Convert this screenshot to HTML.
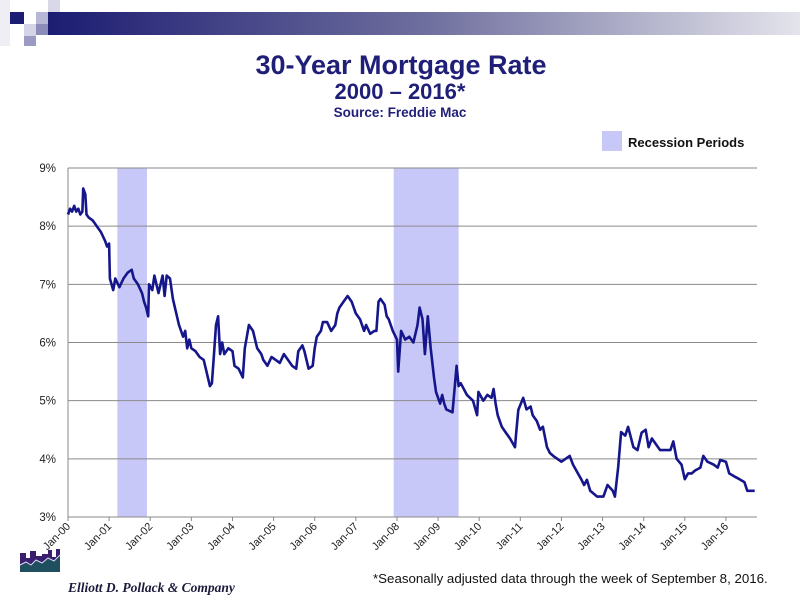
<!DOCTYPE html>
<html><head><meta charset="utf-8"><style>
body{margin:0;background:#fff;width:800px;height:600px;overflow:hidden;font-family:"Liberation Sans",Arial,sans-serif}
</style></head><body>
<svg id="c" width="800" height="600" viewBox="0 0 800 600" xmlns="http://www.w3.org/2000/svg">
<defs><linearGradient id="hg" x1="0" x2="1"><stop offset="0" stop-color="#1c1c72"/><stop offset="0.5" stop-color="#6e6e9e"/><stop offset="1" stop-color="#e4e4ec"/></linearGradient></defs>
<g>
<rect x="48" y="12" width="752" height="23" fill="url(#hg)"/>
<rect x="10" y="12" width="14" height="12" fill="#1c1c72"/>
<rect x="36" y="12" width="12" height="12" fill="#b8b8d6"/>
<rect x="24" y="24" width="12" height="12" fill="#d4d4e6"/>
<rect x="36" y="24" width="12" height="11" fill="#8c8cb8"/>
<rect x="48" y="0" width="12" height="12" fill="#d8d8e8"/>
<rect x="24" y="36" width="12" height="10" fill="#9a9ac4"/>
<rect x="0" y="0" width="10" height="46" fill="#eeeef4"/>
</g>
<text x="401" y="74" text-anchor="middle" font-size="27" font-weight="bold" fill="#1f1f78">30-Year Mortgage Rate</text>
<text x="400" y="99" text-anchor="middle" font-size="22" font-weight="bold" fill="#1f1f78">2000 – 2016*</text>
<text x="400" y="117" text-anchor="middle" font-size="13.5" font-weight="bold" fill="#1f1f78">Source: Freddie Mac</text>
<g>
<rect x="602" y="131" width="20" height="20" fill="#c8c8f8"/>
<text x="628" y="147" font-size="13" font-weight="bold" fill="#111">Recession Periods</text>
</g>
<g id="rec"></g><g id="grid"></g><g id="xax"></g><g id="line"></g>
<g>
<path d="M20 572 L20 553 L26 553 L26 558 L30 558 L30 551 L36 551 L36 556 L42 556 L42 554 L48 554 L48 550 L52 550 L52 557 L56 557 L56 549 L60 549 L60 572 Z" fill="#3a1f6e"/>
<path d="M20 572 L20 565 L26 562 L31 565 L36 560 L42 563 L48 558 L54 561 L60 555 L60 572 Z" fill="#1f4f5f"/>
<path d="M20 565 L26 562 L31 565 L36 560 L42 563 L48 558 L54 561 L60 555" fill="none" stroke="#d8d8f0" stroke-width="1"/>
</g>
<text x="68" y="592" font-family="Liberation Serif,serif" font-style="italic" font-weight="bold" font-size="13.5" fill="#1a1a3a">Elliott D. Pollack &amp; Company</text>
<text x="373" y="583" font-size="13.3" fill="#111">*Seasonally adjusted data through the week of September 8, 2016.</text>
</svg>
<script>
const yTicks=[3,4,5,6,7,8,9];
const xTickYears=[2000,2001,2002,2003,2004,2005,2006,2007,2008,2009,2010,2011,2012,2013,2014,2015,2016];
const xTickLabels=["Jan-00","Jan-01","Jan-02","Jan-03","Jan-04","Jan-05","Jan-06","Jan-07","Jan-08","Jan-09","Jan-10","Jan-11","Jan-12","Jan-13","Jan-14","Jan-15","Jan-16"];
const recessionStart=[2001.2,2007.92];
const recessionEnd=[2001.92,2009.5];
const dates=[2000.0,2000.05,2000.1,2000.15,2000.2,2000.25,2000.3,2000.35,2000.37,2000.42,2000.45,2000.5,2000.6,2000.7,2000.8,2000.9,2000.95,2001.0,2001.02,2001.1,2001.15,2001.25,2001.35,2001.45,2001.55,2001.6,2001.7,2001.8,2001.85,2001.9,2001.95,2001.97,2002.05,2002.1,2002.2,2002.3,2002.35,2002.4,2002.48,2002.55,2002.6,2002.7,2002.8,2002.85,2002.9,2002.95,2003.0,2003.1,2003.2,2003.3,2003.35,2003.45,2003.5,2003.55,2003.6,2003.65,2003.7,2003.75,2003.8,2003.9,2004.0,2004.05,2004.15,2004.25,2004.3,2004.4,2004.5,2004.6,2004.7,2004.75,2004.85,2004.95,2005.05,2005.15,2005.25,2005.35,2005.45,2005.55,2005.6,2005.7,2005.75,2005.8,2005.85,2005.95,2006.0,2006.05,2006.15,2006.2,2006.3,2006.4,2006.5,2006.55,2006.6,2006.7,2006.8,2006.9,2007.0,2007.1,2007.2,2007.25,2007.35,2007.45,2007.5,2007.55,2007.6,2007.7,2007.75,2007.8,2007.9,2008.0,2008.03,2008.1,2008.2,2008.3,2008.4,2008.5,2008.55,2008.62,2008.68,2008.75,2008.82,2008.9,2008.95,2009.05,2009.1,2009.15,2009.2,2009.35,2009.45,2009.5,2009.55,2009.7,2009.85,2009.95,2009.98,2010.1,2010.2,2010.3,2010.35,2010.4,2010.45,2010.55,2010.65,2010.75,2010.87,2010.9,2010.95,2011.07,2011.15,2011.25,2011.3,2011.4,2011.48,2011.55,2011.65,2011.72,2011.8,2012.0,2012.1,2012.2,2012.28,2012.4,2012.48,2012.55,2012.62,2012.7,2012.87,2013.02,2013.12,2013.25,2013.3,2013.38,2013.45,2013.55,2013.62,2013.75,2013.85,2013.95,2014.05,2014.12,2014.2,2014.4,2014.65,2014.72,2014.8,2014.92,2015.0,2015.08,2015.17,2015.25,2015.38,2015.45,2015.55,2015.7,2015.8,2015.86,2016.0,2016.08,2016.2,2016.33,2016.45,2016.52,2016.7];
const rates=[8.2,8.3,8.25,8.35,8.25,8.3,8.2,8.25,8.65,8.55,8.2,8.15,8.1,8.0,7.9,7.75,7.65,7.7,7.1,6.9,7.1,6.95,7.1,7.2,7.25,7.1,7.0,6.85,6.7,6.6,6.45,7.0,6.9,7.15,6.85,7.15,6.8,7.15,7.1,6.75,6.6,6.3,6.1,6.2,5.9,6.05,5.9,5.85,5.75,5.7,5.55,5.25,5.3,5.8,6.3,6.45,5.8,6.0,5.8,5.9,5.85,5.6,5.55,5.4,5.9,6.3,6.2,5.9,5.8,5.7,5.6,5.75,5.7,5.65,5.8,5.7,5.6,5.55,5.85,5.95,5.85,5.7,5.55,5.6,5.9,6.1,6.2,6.35,6.35,6.2,6.3,6.5,6.6,6.7,6.8,6.7,6.5,6.4,6.2,6.3,6.15,6.2,6.2,6.7,6.75,6.65,6.45,6.4,6.2,6.05,5.5,6.2,6.05,6.1,6.0,6.3,6.6,6.4,5.8,6.45,5.9,5.4,5.15,4.95,5.1,4.95,4.85,4.8,5.6,5.25,5.3,5.1,5.0,4.75,5.15,5.0,5.1,5.05,5.2,4.95,4.75,4.55,4.45,4.35,4.2,4.45,4.84,5.05,4.85,4.9,4.75,4.65,4.5,4.55,4.2,4.1,4.05,3.95,4.0,4.05,3.9,3.75,3.65,3.55,3.64,3.45,3.35,3.35,3.55,3.45,3.35,3.86,4.46,4.4,4.55,4.2,4.15,4.45,4.5,4.2,4.35,4.15,4.15,4.3,4.0,3.9,3.65,3.75,3.75,3.8,3.85,4.05,3.95,3.9,3.85,3.98,3.95,3.75,3.7,3.65,3.6,3.45,3.45];
const NS='http://www.w3.org/2000/svg';
const X0=68,X1=757,PY0=168,PY1=517;
function xs(y){return X0+(y-2000)*41.12;}
function ys(v){return PY1-(v-3)*(PY1-PY0)/6;}
function mk(t,a,p){const e=document.createElementNS(NS,t);for(const k in a)e.setAttribute(k,a[k]);p.appendChild(e);return e;}
const rec=document.getElementById('rec');
for(let i=0;i<recessionStart.length;i++){
const r=mk('rect',{x:xs(recessionStart[i]),y:PY0,width:xs(recessionEnd[i])-xs(recessionStart[i]),height:PY1-PY0,fill:'#c8c8f8'},rec);

}
const g=document.getElementById('grid');
yTicks.forEach(v=>{
const l=mk('line',{x1:X0,x2:X1,y1:ys(v),y2:ys(v),stroke:'#8a8a8a','stroke-width':1},g);


const t=mk('text',{x:56,y:ys(v)+4,'text-anchor':'end','font-size':11.5,fill:'#222'},g);
t.textContent=v+'%';

});
const xa=document.getElementById('xax');
mk('line',{x1:X0,x2:X0,y1:PY0,y2:PY1,stroke:'#8a8a8a'},xa);
xTickYears.forEach((yr,i)=>{
const x=xs(yr);
mk('line',{x1:x,x2:x,y1:PY1,y2:PY1+4,stroke:'#8a8a8a'},xa);
const t=mk('text',{x:x+3,y:PY1+10,'text-anchor':'end','font-size':11,fill:'#222',transform:`rotate(-45 ${x+3} ${PY1+10})`},xa);
t.textContent=xTickLabels[i];

});
let d='';
dates.forEach((yr,i)=>{d+=(i?'L':'M')+xs(yr).toFixed(1)+' '+ys(rates[i]).toFixed(1);});
const p=mk('path',{d:d,fill:'none',stroke:'#16168c','stroke-width':2.6,'stroke-linejoin':'round'},document.getElementById('line'));


</script>
</body></html>
